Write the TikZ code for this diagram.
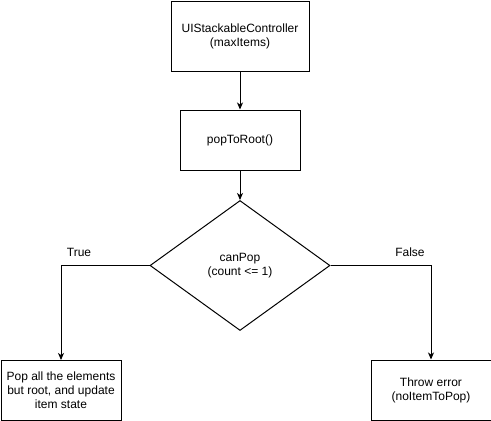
\documentclass[tikz,border=0pt]{standalone}
\usepackage{fontspec}
\setmainfont{Liberation Sans}
\usetikzlibrary{shapes.geometric,arrows.meta}
\begin{document}
\begin{tikzpicture}[x=1pt,y=-1pt,
  every node/.style={font=\fontsize{12}{14}\selectfont, align=center},
  procbox/.style={draw, line width=1pt, minimum width=120pt, minimum height=60pt, inner sep=0pt},
  decision/.style={draw, diamond, line width=1pt, minimum width=180pt, minimum height=130pt, aspect=1.385, inner sep=0pt},
  flow/.style={line width=1pt, -{Stealth[length=7pt,width=6pt,inset=2pt]}},
  branchlabel/.style={inner sep=0pt}]
  \useasboundingbox (0,0) rectangle (491,421);
  \node[procbox, minimum width=138pt, minimum height=70pt] (ctrl) at (240,36) {UIStackableController\\(maxItems)};
  \node[procbox] (pop) at (240,140) {popToRoot()};
  \node[decision] (can) at (240,265.5) {canPop\\(count <= 1)};
  \node[procbox] (popall) at (61,390.5) {Pop all the elements\\but root, and update\\item state};
  \node[procbox] (err) at (431,390) {Throw error\\(noItemToPop)};
  \draw[flow] (ctrl) -- (pop);
  \draw[flow] (pop) -- (can);
  \draw[flow] (can.west) -| (popall.north);
  \draw[flow] (can.east) -| (err.north);
  \node[branchlabel] (t) at (79,252) {True};
  \node[branchlabel] (f) at (410,252) {False};
\end{tikzpicture}
\end{document}
